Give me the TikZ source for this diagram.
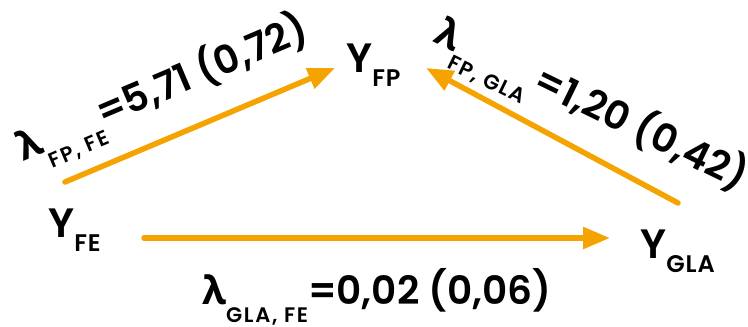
\documentclass[tikz,border=0pt]{standalone}
\usepackage{fontspec}
\setmainfont{Poppins SemiBold}
\newfontfamily\lamfont{Open Sans}
\usetikzlibrary{arrows.meta}
\definecolor{pathorange}{HTML}{F5A300}
% Greek lambda taken from a font that has it
\newcommand\lam{{\lamfont\bfseries λ}}
% variable name with a lowered subscript
\newcommand\yvar[1]{Y\raisebox{-14pt}{\fontsize{24}{24}\selectfont\addfontfeature{LetterSpace=4}#1}}
% subscript of a path coefficient
\newcommand\lsub[1]{\raisebox{-18pt}{\fontsize{21}{21}\selectfont\addfontfeature{LetterSpace=8}#1}}
\tikzset{
  var/.style={font=\fontsize{41}{41}\selectfont, inner sep=0pt, anchor=base west},
  coef/.style={font=\fontsize{39}{39}\selectfont, inner sep=0pt, anchor=base},
  conn/.style={draw=pathorange, line width=5.5pt, line cap=round,
    -{Triangle[length=27pt,width=21pt]}},
}
\begin{document}
\begin{tikzpicture}[x=1pt,y=-1pt]
\useasboundingbox (0,0) rectangle (748,327);
% variables
\node[var] (fp)  at (346,72)  {\yvar{FP}};
\node[var] (fe)  at (48,237)  {\yvar{FE}};
\node[var] (gla) at (640,258) {\yvar{GLA}};
% arrow end points next to the variables
\coordinate (fe-up)    at (65,182);
\coordinate (fe-right) at (144,238);
\coordinate (fp-left)  at (335,68);
\coordinate (fp-right) at (426,68);
\coordinate (gla-up)   at (678,203);
\coordinate (gla-left) at (610,238);
% paths
\draw[conn] (fe-up) -- (fp-left);
\draw[conn] (gla-up) -- (fp-right);
\draw[conn] (fe-right) -- (gla-left);
% coefficients
\node[coef, rotate=23]  (c1) at (167,100) {\lam\lsub{FP, FE}=5,71 (0,72)};
\node[coef, rotate=-26] (c2) at (586,116) {\lam\lsub{FP, GLA}\hspace{3pt}=1,20 (0,42)};
\node[coef]             (c3) at (377,304) {\lam\lsub{GLA, FE}=0,02 (0,06)};
\end{tikzpicture}
\end{document}
